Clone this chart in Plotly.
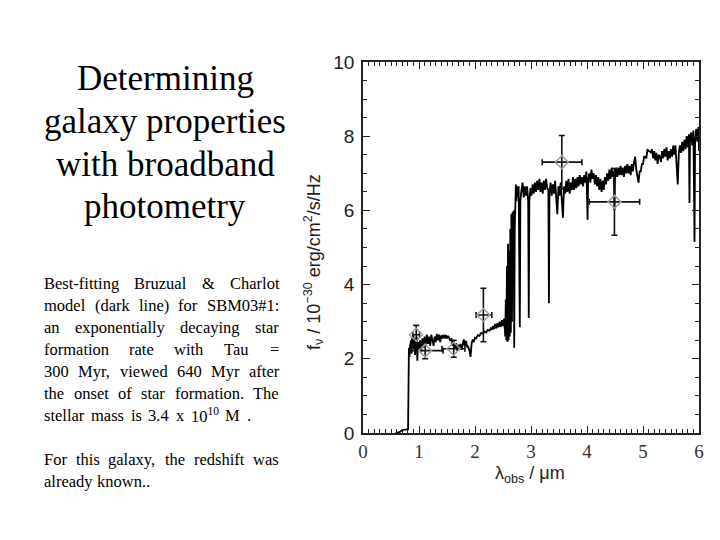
import plotly.graph_objects as go

# ---------------- data ----------------
wave_um = [
    0.58, 0.62, 0.66, 0.70, 0.74, 0.78, 0.805,
    0.81, 0.82, 0.83, 0.84, 0.86, 0.87, 0.88, 0.89, 0.90, 0.91, 0.92, 0.93, 0.94,
    0.95, 0.96, 0.97, 0.98, 1.00, 1.02, 1.04, 1.06, 1.08, 1.10, 1.12, 1.14, 1.16,
    1.18, 1.20, 1.22, 1.24, 1.26, 1.28, 1.30, 1.32, 1.34, 1.36, 1.38, 1.40, 1.42,
    1.44, 1.46, 1.48, 1.50, 1.52, 1.54, 1.56, 1.58, 1.60, 1.62, 1.64, 1.66, 1.68,
    1.70, 1.72, 1.74, 1.76, 1.78, 1.80, 1.82, 1.84, 1.86, 1.88, 1.90, 1.92, 1.94,
    1.96, 1.98, 2.00, 2.02, 2.05, 2.08, 2.11, 2.14, 2.17, 2.20, 2.23, 2.26, 2.28,
    2.30, 2.32, 2.34, 2.36, 2.38, 2.40, 2.42, 2.44, 2.46, 2.48, 2.50, 2.52, 2.53,
    2.54, 2.55, 2.56, 2.57, 2.58, 2.59, 2.60, 2.61, 2.62, 2.63, 2.64, 2.65, 2.66,
    2.67, 2.68, 2.69, 2.70, 2.71, 2.72, 2.73, 2.74, 2.75, 2.76, 2.78, 2.80, 2.81,
    2.83, 2.85, 2.87, 2.89, 2.91, 2.93, 2.95, 2.96, 2.97, 2.99, 3.01, 3.03, 3.05,
    3.07, 3.09, 3.11, 3.13, 3.15, 3.17, 3.19, 3.21, 3.23, 3.25, 3.27, 3.29, 3.31,
    3.32, 3.33, 3.35, 3.37, 3.39, 3.41, 3.43, 3.45, 3.47, 3.49, 3.51, 3.53, 3.55,
    3.57, 3.59, 3.61, 3.63, 3.65, 3.67, 3.69, 3.71, 3.73, 3.75, 3.77, 3.79, 3.81,
    3.83, 3.85, 3.87, 3.89, 3.91, 3.93, 3.95, 3.97, 3.99, 4.01, 4.02, 4.04, 4.06,
    4.08, 4.10, 4.12, 4.14, 4.16, 4.18, 4.20, 4.22, 4.24, 4.26, 4.28, 4.30, 4.32,
    4.34, 4.36, 4.38, 4.40, 4.42, 4.44, 4.46, 4.48, 4.49, 4.50, 4.52, 4.54, 4.56,
    4.58, 4.60, 4.62, 4.64, 4.66, 4.68, 4.70, 4.72, 4.74, 4.76, 4.78, 4.80, 4.82,
    4.84, 4.86, 4.88, 4.90, 4.92, 4.94, 4.96, 4.98, 5.00, 5.02, 5.04, 5.06, 5.08,
    5.10, 5.12, 5.14, 5.16, 5.18, 5.20, 5.22, 5.24, 5.26, 5.28, 5.30, 5.32, 5.34,
    5.36, 5.38, 5.40, 5.42, 5.44, 5.46, 5.48, 5.50, 5.52, 5.54, 5.56, 5.58, 5.60,
    5.62, 5.64, 5.66, 5.68, 5.70, 5.72, 5.74, 5.76, 5.78, 5.80, 5.82, 5.83, 5.84,
    5.86, 5.88, 5.90, 5.92, 5.93, 5.95, 5.97, 5.99, 6.00,
]
flux = [
    0.00, 0.01, 0.03, 0.08, 0.10, 0.10, 0.10,
    2.15, 2.30, 2.05, 2.35, 2.50, 2.15, 2.60, 2.30, 2.65, 2.25, 2.55, 2.10, 2.50,
    2.30, 2.60, 1.95, 2.45, 2.25, 2.50, 2.20, 2.55, 2.30, 2.60, 2.35, 2.65, 2.40,
    2.60, 2.35, 2.65, 2.45, 2.35, 2.60, 2.45, 2.67, 2.50, 2.65, 2.45, 2.63, 2.55,
    2.65, 2.55, 2.64, 2.55, 2.62, 2.52, 2.48, 2.55, 2.35, 2.48, 2.28, 2.42, 2.22,
    2.38, 2.26, 2.40, 2.24, 2.38, 2.52, 2.35, 2.48, 2.32, 2.33, 2.22, 2.05, 2.42,
    2.52, 2.45, 2.57, 2.55, 2.64, 2.62, 2.70, 2.68, 2.74, 2.71, 2.78, 2.76, 2.82,
    2.78, 2.88, 2.80, 2.94, 2.82, 2.96, 2.85, 3.00, 2.86, 3.04, 2.88, 3.08, 2.85,
    2.60, 3.60, 2.50, 4.50, 2.45, 5.10, 2.50, 4.90, 2.60, 5.50, 2.70, 5.90, 3.00,
    5.95, 4.00, 6.00, 2.30, 5.50, 6.50, 6.70, 6.25, 6.65, 6.35, 6.65, 2.85, 6.25,
    6.55, 6.75, 6.35, 6.65, 6.40, 6.65, 6.25, 3.10, 6.25, 6.60, 6.40, 6.70, 6.45,
    6.75, 6.50, 6.80, 6.55, 6.85, 6.50, 6.75, 6.45, 6.80, 6.55, 6.85, 6.60, 6.55,
    3.50, 6.45, 6.75, 6.40, 6.70, 6.45, 6.80, 6.35, 5.90, 6.65, 6.40, 6.75, 6.30,
    5.80, 6.65, 6.45, 6.80, 6.50, 6.85, 6.45, 6.75, 6.55, 6.90, 6.55, 6.85, 6.60,
    6.90, 6.65, 6.95, 6.70, 6.90, 6.65, 6.95, 6.75, 7.05, 5.75, 6.80, 7.00, 6.75,
    7.10, 6.85, 7.00, 6.70, 6.95, 6.65, 6.90, 6.55, 6.85, 6.50, 6.80, 6.55, 6.90,
    6.70, 7.00, 6.80, 7.10, 6.85, 7.15, 6.90, 7.05, 6.00, 6.85, 7.15, 6.90, 7.15,
    6.95, 7.20, 6.95, 7.15, 6.90, 7.20, 7.00, 7.25, 7.00, 7.20, 6.95, 7.25, 7.05,
    7.30, 7.45, 7.10, 6.95, 6.75, 7.05, 7.05, 7.25, 7.25, 7.45, 7.45, 7.40, 7.65,
    7.60, 7.60, 7.55, 7.65, 7.40, 7.60, 7.35, 7.55, 7.25, 7.50, 7.45, 7.30, 7.60,
    7.40, 7.65, 7.45, 7.70, 7.35, 7.60, 7.40, 7.65, 7.45, 7.75, 7.50, 7.75, 7.35,
    6.70, 7.55, 7.75, 7.55, 7.85, 7.60, 7.90, 7.65, 8.00, 7.70, 8.05, 6.20, 7.95,
    8.10, 7.75, 8.15, 5.15, 7.85, 8.20, 7.85, 8.25, 7.60,
]

phot_x = [0.95, 1.11, 1.62, 2.15, 3.55, 4.49]
phot_y = [2.65, 2.22, 2.27, 3.18, 7.30, 6.23]
phot_xerr_minus = [0.06, 0.25, 0.21, 0.13, 0.35, 0.45]
phot_xerr_plus = [0.06, 0.32, 0.20, 0.15, 0.36, 0.45]
phot_yerr = [0.25, 0.22, 0.23, 0.72, 0.72, 0.90]

x_ticks = [0, 1, 2, 3, 4, 5, 6]
y_ticks = [0, 2, 4, 6, 8, 10]

title_lines = ["Determining", "galaxy properties", "with broadband", "photometry"]
body_lines = [
    ("Best-fitting Bruzual & Charlot", True),
    ("model (dark line) for SBM03#1:", True),
    ("an exponentially decaying star", True),
    ("formation rate with Tau =", True),
    ("300 Myr, viewed 640 Myr after", True),
    ("the onset of star formation. The", True),
    ("stellar mass is 3.4 x 10<sup>10</sup> M .", True),
    ("", False),
    ("For this galaxy, the redshift was", True),
    ("already known..", False),
]

# ---------------- figure ----------------
W, H = 720, 540
fig = go.Figure()

fig.add_trace(go.Scatter(
    x=wave_um, y=flux, mode="lines",
    line=dict(color="#000000", width=1.8),
    hoverinfo="skip", showlegend=False,
))

fig.add_trace(go.Scatter(
    x=phot_x, y=phot_y, mode="markers",
    marker=dict(symbol="diamond-open", size=10, color="#a0a0a0",
                line=dict(width=1.5, color="#a0a0a0")),
    error_x=dict(type="data", symmetric=False, array=phot_xerr_plus,
                 arrayminus=phot_xerr_minus, color="#111111", thickness=1.6, width=3),
    error_y=dict(type="data", array=phot_yerr, color="#111111", thickness=1.6, width=3),
    showlegend=False,
))

axis_common = dict(
    showline=True, linecolor="#222222", linewidth=1.6, mirror="ticks",
    ticks="inside", tickcolor="#222222", tickwidth=1.2,
    showgrid=False, zeroline=False, automargin=False,
)

fig.update_xaxes(
    range=[0, 6], domain=[363 / W, 699 / W],
    tickvals=x_ticks, ticktext=[str(v) for v in x_ticks], ticklen=7,
    tickfont=dict(family="Liberation Serif", size=19, color="#333333"),
    ticklabelstandoff=0,
    minor=dict(dtick=0.1, ticks="inside", ticklen=4, tickcolor="#222222", tickwidth=1),
    **axis_common,
)
fig.update_yaxes(
    range=[0, 10], domain=[1 - 433 / H, 1 - 62 / H],
    tickvals=y_ticks, ticktext=[str(v) for v in y_ticks], ticklen=7,
    tickfont=dict(family="Liberation Sans", size=19, color="#222222"),
    ticklabelstandoff=3,
    minor=dict(dtick=0.5, ticks="inside", ticklen=4, tickcolor="#222222", tickwidth=1),
    **axis_common,
)

annotations = []

# axis titles
annotations.append(dict(
    x=313 / W, y=1 - 262 / H, xref="paper", yref="paper", textangle=-90,
    text="f<sub>ν</sub> / 10<sup>−30</sup> erg/cm<sup>2</sup>/s/Hz",
    showarrow=False, xanchor="center", yanchor="middle",
    font=dict(family="Liberation Sans", size=18, color="#222222"),
))
annotations.append(dict(
    x=530 / W, y=1 - 474 / H, xref="paper", yref="paper",
    text="λ<sub>obs</sub> / μm",
    showarrow=False, xanchor="center", yanchor="middle",
    font=dict(family="Liberation Sans", size=18, color="#222222"),
))

# slide title
title_y = [79, 121, 164, 207]
for line, py in zip(title_lines, title_y):
    annotations.append(dict(
        x=165 / W, y=1 - py / H, xref="paper", yref="paper", text=line,
        showarrow=False, xanchor="center", yanchor="middle",
        font=dict(family="Liberation Serif", size=35, color="#000000"),
    ))

# justified body text (Times metrics)
TW = {' ': 250, 'a': 444, 'b': 500, 'c': 444, 'd': 500, 'e': 444, 'f': 333, 'g': 500,
      'h': 500, 'i': 278, 'j': 278, 'k': 500, 'l': 278, 'm': 778, 'n': 500, 'o': 500,
      'p': 500, 'q': 500, 'r': 333, 's': 389, 't': 278, 'u': 500, 'v': 500, 'w': 722,
      'x': 500, 'y': 500, 'z': 444, 'A': 722, 'B': 667, 'C': 667, 'D': 722, 'F': 556,
      'M': 889, 'S': 556, 'T': 611, '.': 250, ',': 250, ':': 278, '(': 333, ')': 333,
      '-': 333, '&': 778, '#': 500, '=': 564}


def word_width(word, size):
    total = 0.0
    scale = 1.0
    i = 0
    while i < len(word):
        if word.startswith("<sup>", i):
            scale = 0.7
            i += 5
            continue
        if word.startswith("</sup>", i):
            scale = 1.0
            i += 6
            continue
        total += TW.get(word[i], 500) * scale
        i += 1
    return total * size / 1000.0


body_size = 16.5
body_y = [283, 305, 327, 349, 371, 393, 415, 437, 459, 481]
x_left = 43
right_edges = [278, 278, 278, 278, 278, 278, 250, 278, 278, 278]
for (line, justify), py, xr in zip(body_lines, body_y, right_edges):
    if not line:
        continue
    words = line.split(" ")
    widths = [word_width(w, body_size) for w in words]
    if justify and len(words) > 1:
        gap = (xr - x_left - sum(widths)) / (len(words) - 1)
    else:
        gap = 250 * body_size / 1000.0
    xpos = x_left
    for w, wd in zip(words, widths):
        annotations.append(dict(
            x=xpos / W, y=1 - py / H, xref="paper", yref="paper", text=w,
            showarrow=False, xanchor="left", yanchor="middle", borderpad=0,
            font=dict(family="Liberation Serif", size=body_size, color="#000000"),
        ))
        xpos += wd + gap

fig.update_layout(
    width=W, height=H,
    margin=dict(l=0, r=0, t=0, b=0, autoexpand=False),
    paper_bgcolor="white", plot_bgcolor="white",
    annotations=annotations,
    showlegend=False,
)

fig.write_html("out.html")
